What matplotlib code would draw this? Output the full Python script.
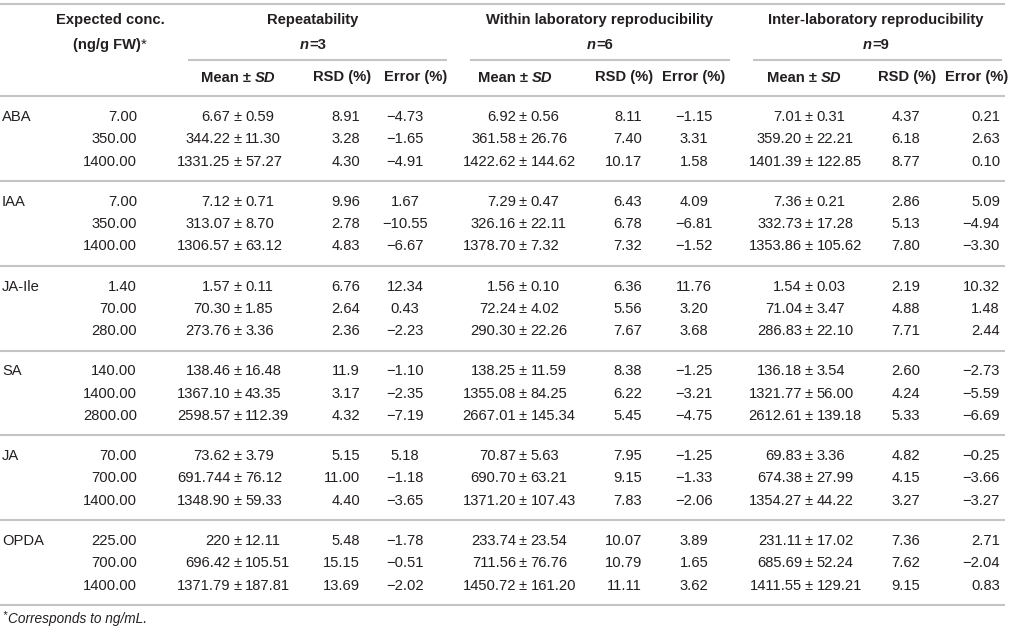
import matplotlib
matplotlib.use("Agg")
import matplotlib.pyplot as plt

# table values
compounds = ["ABA", "IAA", "JA-Ile", "SA", "JA", "OPDA"]
expected = [["7.00", "350.00", "1400.00"],
            ["7.00", "350.00", "1400.00"],
            ["1.40", "70.00", "280.00"],
            ["140.00", "1400.00", "2800.00"],
            ["70.00", "700.00", "1400.00"],
            ["225.00", "700.00", "1400.00"]]

rep_mean = [["6.67", "344.22", "1331.25"], ["7.12", "313.07", "1306.57"],
            ["1.57", "70.30", "273.76"], ["138.46", "1367.10", "2598.57"],
            ["73.62", "691.744", "1348.90"], ["220", "696.42", "1371.79"]]
rep_sd = [["0.59", "11.30", "57.27"], ["0.71", "8.70", "63.12"],
          ["0.11", "1.85", "3.36"], ["16.48", "43.35", "112.39"],
          ["3.79", "76.12", "59.33"], ["12.11", "105.51", "187.81"]]
rep_rsd = [["8.91", "3.28", "4.30"], ["9.96", "2.78", "4.83"],
           ["6.76", "2.64", "2.36"], ["11.9", "3.17", "4.32"],
           ["5.15", "11.00", "4.40"], ["5.48", "15.15", "13.69"]]
rep_err = [["−4.73", "−1.65", "−4.91"], ["1.67", "−10.55", "−6.67"],
           ["12.34", "0.43", "−2.23"], ["−1.10", "−2.35", "−7.19"],
           ["5.18", "−1.18", "−3.65"], ["−1.78", "−0.51", "−2.02"]]

wl_mean = [["6.92", "361.58", "1422.62"], ["7.29", "326.16", "1378.70"],
           ["1.56", "72.24", "290.30"], ["138.25", "1355.08", "2667.01"],
           ["70.87", "690.70", "1371.20"], ["233.74", "711.56", "1450.72"]]
wl_sd = [["0.56", "26.76", "144.62"], ["0.47", "22.11", "7.32"],
         ["0.10", "4.02", "22.26"], ["11.59", "84.25", "145.34"],
         ["5.63", "63.21", "107.43"], ["23.54", "76.76", "161.20"]]
wl_rsd = [["8.11", "7.40", "10.17"], ["6.43", "6.78", "7.32"],
          ["6.36", "5.56", "7.67"], ["8.38", "6.22", "5.45"],
          ["7.95", "9.15", "7.83"], ["10.07", "10.79", "11.11"]]
wl_err = [["−1.15", "3.31", "1.58"], ["4.09", "−6.81", "−1.52"],
          ["11.76", "3.20", "3.68"], ["−1.25", "−3.21", "−4.75"],
          ["−1.25", "−1.33", "−2.06"], ["3.89", "1.65", "3.62"]]

il_mean = [["7.01", "359.20", "1401.39"], ["7.36", "332.73", "1353.86"],
           ["1.54", "71.04", "286.83"], ["136.18", "1321.77", "2612.61"],
           ["69.83", "674.38", "1354.27"], ["231.11", "685.69", "1411.55"]]
il_sd = [["0.31", "22.21", "122.85"], ["0.21", "17.28", "105.62"],
         ["0.03", "3.47", "22.10"], ["3.54", "56.00", "139.18"],
         ["3.36", "27.99", "44.22"], ["17.02", "52.24", "129.21"]]
il_rsd = [["4.37", "6.18", "8.77"], ["2.86", "5.13", "7.80"],
          ["2.19", "4.88", "7.71"], ["2.60", "4.24", "5.33"],
          ["4.82", "4.15", "3.27"], ["7.36", "7.62", "9.15"]]
il_err = [["0.21", "2.63", "0.10"], ["5.09", "−4.94", "−3.30"],
          ["10.32", "1.48", "2.44"], ["−2.73", "−5.59", "−6.69"],
          ["−0.25", "−3.66", "−3.27"], ["2.71", "−2.04", "0.83"]]

group_titles = ["Repeatability", "Within laboratory reproducibility",
                "Inter-laboratory reproducibility"]
group_n = ["3", "6", "9"]

TXT = "#231f20"
LINE = "#c4c4c4"
FS = 10.6
plt.rcParams['font.family'] = ['Liberation Sans', 'DejaVu Sans']

fig = plt.figure(figsize=(10.14, 6.31), dpi=100)
ax = fig.add_axes([0, 0, 1, 1])
ax.set_xlim(0, 1014)
ax.set_ylim(631, 0)
ax.axis('off')
renderer = fig.canvas.get_renderer()


def text_width(s, **kw):
    t = ax.text(0, 0, s, fontsize=FS, **kw)
    bb = t.get_window_extent(renderer=renderer)
    t.remove()
    return bb.width


def pieces(x, y, parts):
    # parts = list of (string, weight, style), drawn centered on x
    widths = [text_width(s, fontweight=w, fontstyle=st) for s, w, st in parts]
    cur = x - sum(widths) / 2
    for (s, w, st), wd in zip(parts, widths):
        ax.text(cur, y, s, fontsize=FS, fontweight=w, fontstyle=st,
                color=TXT, ha='left', va='center')
        cur += wd


def hline(y, x0=0, x1=1005):
    ax.plot([x0, x1], [y, y], color=LINE, lw=1.5, solid_capstyle='butt')


# column layout
pm_x = [237.5, 523, 809]
rsd_x = [360, 642, 920]
err_x = [405, 694, 1000]
err_ha = ['center', 'center', 'right']
grp_cx = [313, 600, 876]
grp_line = [(188, 447), (470, 730), (753, 1002)]
sub_mean_cx = [238, 515, 804]
sub_rsd_cx = [342, 624, 907]
sub_err_cx = [416, 694, 977]

# header
hline(4)
pieces(110, 20, [("Expected conc.", 'bold', 'normal')])
pieces(110, 45, [("(ng/g FW)", 'bold', 'normal'), ("*", 'normal', 'normal')])
for g in range(3):
    pieces(grp_cx[g], 20, [(group_titles[g], 'bold', 'normal')])
    pieces(grp_cx[g], 45, [("n", 'bold', 'italic'), ("=" + group_n[g], 'bold', 'normal')])
    hline(60, *grp_line[g])
    pieces(sub_mean_cx[g], 77.5, [("Mean ± ", 'bold', 'normal'), ("SD", 'bold', 'italic')])
    pieces(sub_rsd_cx[g], 77.5, [("RSD (%)", 'bold', 'normal')])
    pieces(sub_err_cx[g], 77.5, [("Error (%)", 'bold', 'normal')])
hline(95.5)

means = [rep_mean, wl_mean, il_mean]
sds = [rep_sd, wl_sd, il_sd]
rsds = [rep_rsd, wl_rsd, il_rsd]
errs = [rep_err, wl_err, il_err]

pitch = 84.8
row_h = 22.3
for i, name in enumerate(compounds):
    y0 = 117 + i * pitch
    ax.text(2, y0, name, fontsize=FS, color=TXT, ha='left', va='center')
    for r in range(3):
        y = y0 + r * row_h
        ax.text(137, y, expected[i][r], fontsize=FS, color=TXT, ha='right', va='center')
        for g in range(3):
            ax.text(pm_x[g] - 7, y, means[g][i][r], fontsize=FS, color=TXT,
                    ha='right', va='center')
            ax.text(pm_x[g], y, "±", fontsize=FS, color=TXT, ha='center', va='center')
            ax.text(pm_x[g] + 7.5, y, sds[g][i][r], fontsize=FS, color=TXT,
                    ha='left', va='center')
            ax.text(rsd_x[g], y, rsds[g][i][r], fontsize=FS, color=TXT,
                    ha='right', va='center')
            ax.text(err_x[g], y, errs[g][i][r], fontsize=FS, color=TXT,
                    ha=err_ha[g], va='center')
    hline(181 + i * pitch)

ax.text(2, 615, "*", fontsize=8, color=TXT, ha='left', va='center', fontstyle='italic')
ax.text(7.5, 619, "Corresponds to ng/mL.", fontsize=9.8, color=TXT, ha='left',
        va='center', fontstyle='italic')

fig.savefig("out.png", dpi=100)
